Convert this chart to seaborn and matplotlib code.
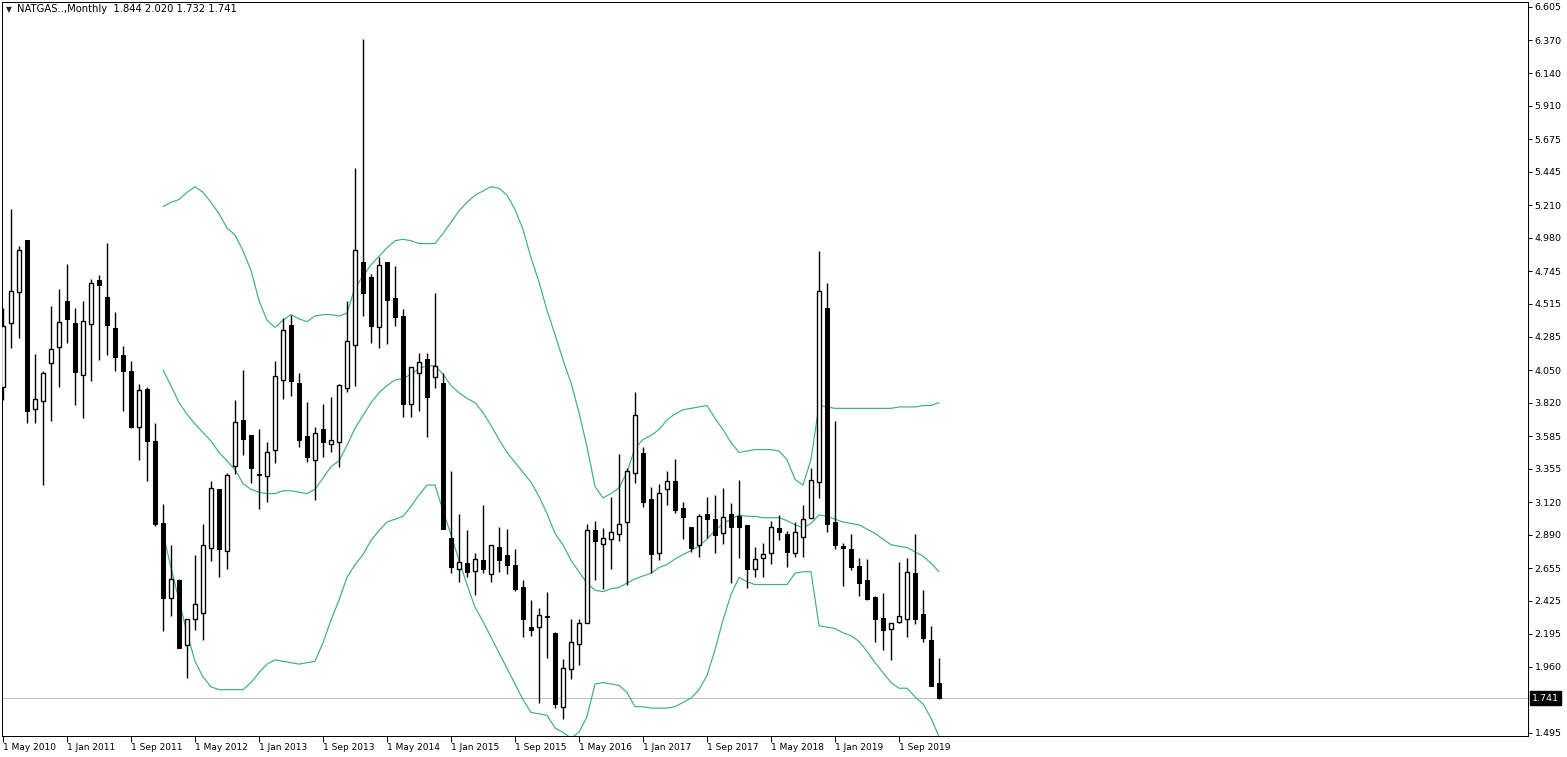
import numpy as np
import pandas as pd
import matplotlib
matplotlib.use("Agg")
import matplotlib.pyplot as plt
import seaborn as sns

# ---------------- data ----------------
first_month = "2010-05-01"
symbol_title = "NATGAS..,Monthly"

opens = [3.929, 4.380, 4.599, 4.965, 3.775, 3.831, 4.099, 4.211, 4.535, 4.380,
         4.014, 4.373, 4.683, 4.563, 4.345, 4.155, 4.043, 3.648, 3.916, 3.550,
         2.973, 2.445, 2.571, 2.114, 2.297, 2.339, 2.797, 3.212, 2.775, 3.374,
         3.698, 3.592, 3.320, 3.303, 3.486, 3.979, 4.366, 3.958, 3.585, 3.416,
         3.634, 3.529, 3.543, 3.923, 4.226, 4.810, 4.704, 4.352, 4.810, 4.556,
         4.430, 3.810, 4.028, 4.127, 4.000, 3.958, 2.867, 2.649, 2.691, 2.635,
         2.712, 2.614, 2.804, 2.747, 2.677, 2.522, 2.240, 2.240, 2.315, 2.198,
         1.677, 1.945, 2.121, 2.269, 2.923, 2.825, 2.860, 2.895, 2.980, 3.324,
         3.465, 3.141, 2.761, 3.212, 3.268, 3.078, 2.944, 2.818, 3.036, 3.001,
         2.902, 3.036, 3.022, 2.959, 2.649, 2.726, 2.761, 2.937, 2.895, 2.761,
         2.874, 3.008, 3.261, 4.486, 2.980, 2.808, 2.790, 2.670, 2.571, 2.452,
         2.304, 2.226, 2.276, 2.297, 2.620, 2.332, 2.149, 1.844]

highs = [4.486, 5.183, 4.922, 4.965, 4.162, 4.043, 4.500, 4.620, 4.796, 4.486,
         4.535, 4.690, 4.718, 4.943, 4.458, 4.218, 4.113, 3.951, 3.930, 3.676,
         3.106, 2.818, 2.578, 2.297, 2.747, 2.966, 3.268, 3.212, 3.324, 3.838,
         4.050, 3.592, 3.634, 3.543, 4.113, 4.416, 4.437, 4.028, 3.824, 3.648,
         3.810, 3.860, 3.951, 4.535, 5.471, 6.379, 4.725, 4.845, 4.810, 4.782,
         4.479, 4.071, 4.169, 4.169, 4.592, 4.028, 3.339, 3.036, 2.923, 2.761,
         3.099, 2.818, 2.944, 2.930, 2.790, 2.571, 2.431, 2.374, 2.487, 2.205,
         2.015, 2.297, 2.297, 2.966, 2.987, 2.937, 3.156, 3.458, 3.360, 3.895,
         3.507, 3.226, 3.247, 3.339, 3.423, 3.120, 2.944, 3.036, 3.156, 3.170,
         3.219, 3.113, 3.275, 2.959, 2.804, 2.832, 2.987, 3.029, 2.916, 2.980,
         3.099, 3.360, 4.887, 4.662, 3.691, 2.832, 2.895, 2.726, 2.719, 2.459,
         2.480, 2.269, 2.698, 2.726, 2.895, 2.501, 2.247, 2.020]

lows = [3.838, 4.204, 4.275, 3.676, 3.676, 3.240, 3.691, 3.930, 4.240, 3.803,
        3.712, 3.972, 4.120, 4.155, 4.043, 3.761, 3.641, 3.416, 3.268, 2.951,
        2.212, 2.318, 2.093, 1.882, 2.219, 2.149, 2.705, 2.593, 2.649, 3.317,
        3.451, 3.254, 3.071, 3.120, 3.395, 3.845, 3.867, 3.507, 3.402, 3.134,
        3.437, 3.472, 3.367, 3.895, 3.937, 4.430, 4.240, 4.204, 4.233, 4.359,
        3.719, 3.719, 3.761, 3.578, 3.923, 2.930, 2.620, 2.557, 2.593, 2.466,
        2.620, 2.557, 2.628, 2.614, 2.494, 2.170, 2.177, 1.706, 2.022, 1.670,
        1.593, 1.875, 1.973, 2.269, 2.571, 2.508, 2.649, 2.846, 2.536, 3.254,
        3.085, 2.620, 2.712, 3.099, 3.043, 2.860, 2.768, 2.733, 2.867, 2.761,
        2.825, 2.550, 2.726, 2.515, 2.593, 2.593, 2.684, 2.853, 2.663, 2.733,
        2.733, 3.008, 3.148, 2.909, 2.790, 2.529, 2.642, 2.459, 2.431, 2.135,
        2.079, 2.008, 2.269, 2.170, 2.262, 2.135, 1.825, 1.732]

closes = [4.359, 4.606, 4.894, 3.761, 3.845, 4.028, 4.197, 4.387, 4.409, 4.035,
          4.394, 4.662, 4.648, 4.366, 4.141, 4.043, 3.648, 3.909, 3.550, 2.966,
          2.445, 2.578, 2.093, 2.297, 2.402, 2.818, 3.219, 2.790, 3.310, 3.684,
          3.564, 3.360, 3.310, 3.472, 4.007, 4.331, 3.972, 3.557, 3.437, 3.606,
          3.543, 3.557, 3.944, 4.254, 4.894, 4.592, 4.359, 4.789, 4.542, 4.423,
          3.810, 4.071, 4.106, 3.860, 4.078, 2.930, 2.663, 2.698, 2.628, 2.719,
          2.649, 2.818, 2.712, 2.677, 2.508, 2.297, 2.219, 2.325, 2.308, 1.699,
          1.952, 2.135, 2.269, 2.923, 2.846, 2.867, 2.909, 2.966, 3.339, 3.733,
          3.120, 2.754, 3.184, 3.268, 3.064, 3.015, 2.797, 3.022, 3.001, 2.888,
          3.015, 2.944, 2.944, 2.649, 2.719, 2.754, 2.944, 2.909, 2.768, 2.909,
          3.001, 3.275, 4.606, 2.966, 2.818, 2.800, 2.663, 2.550, 2.438, 2.297,
          2.219, 2.269, 2.318, 2.628, 2.297, 2.163, 1.825, 1.741]

# Bollinger band lines (they begin at the 21st bar)
bb_upper = [5.20, 5.23, 5.25, 5.30, 5.34, 5.30, 5.23, 5.15, 5.05, 5.00,
            4.89, 4.75, 4.54, 4.40, 4.35, 4.40, 4.44, 4.41, 4.39, 4.43,
            4.44, 4.44, 4.43, 4.45, 4.63, 4.71, 4.79, 4.85, 4.91, 4.96,
            4.97, 4.96, 4.94, 4.94, 4.94, 5.01, 5.09, 5.17, 5.23, 5.28,
            5.31, 5.34, 5.33, 5.28, 5.18, 5.04, 4.84, 4.67, 4.47, 4.30,
            4.12, 3.96, 3.75, 3.51, 3.23, 3.15, 3.18, 3.22, 3.33, 3.50,
            3.56, 3.59, 3.63, 3.70, 3.74, 3.77, 3.78, 3.79, 3.80, 3.71,
            3.63, 3.54, 3.47, 3.48, 3.49, 3.49, 3.49, 3.48, 3.42, 3.28,
            3.24, 3.42, 3.80, 3.79, 3.78, 3.78, 3.78, 3.78, 3.78, 3.78,
            3.78, 3.78, 3.79, 3.79, 3.79, 3.80, 3.80, 3.82]

bb_middle = [4.05, 3.94, 3.82, 3.74, 3.67, 3.61, 3.55, 3.47, 3.41, 3.35,
             3.25, 3.21, 3.19, 3.18, 3.18, 3.20, 3.20, 3.19, 3.18, 3.21,
             3.29, 3.37, 3.41, 3.52, 3.64, 3.73, 3.82, 3.89, 3.94, 3.98,
             3.99, 4.02, 4.06, 4.08, 4.08, 4.02, 3.94, 3.89, 3.85, 3.82,
             3.75, 3.66, 3.56, 3.47, 3.40, 3.33, 3.26, 3.16, 3.04, 2.90,
             2.82, 2.71, 2.63, 2.55, 2.50, 2.49, 2.51, 2.52, 2.55, 2.58,
             2.60, 2.62, 2.66, 2.68, 2.72, 2.75, 2.78, 2.81, 2.86, 2.92,
             2.97, 3.00, 3.03, 3.02, 3.02, 3.01, 3.01, 3.01, 2.99, 2.96,
             2.94, 2.97, 3.03, 3.02, 3.00, 2.98, 2.97, 2.96, 2.93, 2.90,
             2.86, 2.82, 2.81, 2.80, 2.77, 2.74, 2.69, 2.63]

bb_lower = [2.90, 2.66, 2.43, 2.20, 2.00, 1.89, 1.82, 1.80, 1.80, 1.80,
            1.80, 1.85, 1.92, 1.98, 2.01, 2.00, 1.99, 1.98, 1.99, 2.00,
            2.13, 2.29, 2.43, 2.59, 2.68, 2.75, 2.85, 2.92, 2.98, 3.00,
            3.02, 3.09, 3.17, 3.24, 3.24, 3.06, 2.89, 2.71, 2.54, 2.38,
            2.28, 2.17, 2.06, 1.95, 1.84, 1.73, 1.64, 1.63, 1.62, 1.53,
            1.50, 1.46, 1.50, 1.61, 1.84, 1.85, 1.84, 1.83, 1.78, 1.68,
            1.68, 1.67, 1.67, 1.67, 1.68, 1.71, 1.74, 1.80, 1.90, 2.08,
            2.29, 2.47, 2.59, 2.56, 2.54, 2.54, 2.54, 2.54, 2.54, 2.62,
            2.63, 2.63, 2.25, 2.24, 2.23, 2.20, 2.18, 2.14, 2.07, 1.99,
            1.92, 1.85, 1.81, 1.81, 1.75, 1.70, 1.60, 1.47]

price_ticks = [6.605, 6.370, 6.140, 5.910, 5.675, 5.445, 5.210, 4.980, 4.745,
               4.515, 4.285, 4.050, 3.820, 3.585, 3.355, 3.120, 2.890, 2.655,
               2.425, 2.195, 1.960, 1.495]

date_tick_labels = ["1 May 2010", "1 Jan 2011", "1 Sep 2011", "1 May 2012",
                    "1 Jan 2013", "1 Sep 2013", "1 May 2014", "1 Jan 2015",
                    "1 Sep 2015", "1 May 2016", "1 Jan 2017", "1 Sep 2017",
                    "1 May 2018", "1 Jan 2019", "1 Sep 2019"]

last_price = closes[-1]

# ---------------- frames ----------------
n = len(opens)
dates = pd.date_range(first_month, periods=n, freq="MS")
df = pd.DataFrame({"idx": np.arange(n), "open": opens, "high": highs,
                   "low": lows, "close": closes, "date": dates})
df["label"] = [f"{d.day} {d.strftime('%b %Y')}" for d in df["date"]]
df["bull"] = df["close"] >= df["open"]
df["body_lo"] = df[["open", "close"]].min(axis=1)
df["body_h"] = (df["close"] - df["open"]).abs()

b0 = n - len(bb_upper)
bands = pd.DataFrame({"idx": np.arange(b0, n), "upper": bb_upper,
                      "middle": bb_middle, "lower": bb_lower})

# ---------------- figure ----------------
sns.set_style("white")
plt.rcParams["font.family"] = ["DejaVu Sans"]

W, H = 1567, 757
fig = plt.figure(figsize=(W / 100, H / 100), dpi=100)
fig.patch.set_facecolor("white")
left_px, right_px, top_px, bot_px = 1.7, 1527.7, 1.7, 735.7
ax = fig.add_axes([left_px / W, 1 - bot_px / H,
                   (right_px - left_px) / W, (bot_px - top_px) / H])
ax.set_facecolor("white")

green = "#3CB371"
px = 0.72  # one pixel in points

# current price line
ax.axhline(last_price, color="#C0C0C0", lw=px, zorder=1)

# bands via seaborn
for col in ["upper", "middle", "lower"]:
    sns.lineplot(data=bands, x="idx", y=col, color=green, lw=0.85,
                 ax=ax, legend=False, zorder=2)

# wicks
ax.vlines(df["idx"], df["low"], df["high"], color="black", lw=1.0, zorder=3)
# bodies
bw = 0.6
bull = df[df["bull"]]
bear = df[~df["bull"]]
ax.bar(bear["idx"], bear["body_h"], bottom=bear["body_lo"], width=bw,
       color="black", edgecolor="black", lw=px, zorder=4)
ax.bar(bull["idx"], bull["body_h"], bottom=bull["body_lo"], width=bw,
       color="white", edgecolor="black", lw=1.0, zorder=4)

# axes ranges (pixel mapping of the reference)
x_per_px = 1 / 8.0
ax.set_xlim((left_px - 3) * x_per_px, (right_px - 3) * x_per_px)
p_per_px = (6.605 - 1.495) / (733 - 7)
ax.set_ylim(1.495 - (bot_px - 733) * p_per_px, 6.605 + (7 - top_px) * p_per_px)

# y axis on the right
ax.yaxis.tick_right()
ax.set_yticks(price_ticks)
ax.set_yticklabels([f"{v:.3f}" for v in price_ticks])
ax.tick_params(axis="y", which="both", right=True, left=False, length=3,
               width=px, pad=2, labelsize=6.8, colors="black")

# x axis
pos = [int(df.loc[df["label"] == lab, "idx"].iloc[0]) for lab in date_tick_labels]
ax.set_xticks(pos)
ax.set_xticklabels(date_tick_labels, ha="left")
ax.tick_params(axis="x", bottom=True, length=4, width=px, pad=1,
               labelsize=6.5, colors="black")
for lab in ax.get_xticklabels():
    lab.set_horizontalalignment("left")

ax.set_xlabel("")
ax.set_ylabel("")
for s in ax.spines.values():
    s.set_visible(True)
    s.set_color("black")
    s.set_linewidth(px)

# price box
ax.annotate(f"{last_price:.3f}", xy=(1.0, last_price),
            xycoords=("axes fraction", "data"), xytext=(3.0, 0),
            textcoords="offset points", va="center", ha="left",
            fontsize=6.8, color="white",
            bbox=dict(boxstyle="square,pad=0.25", fc="black", ec="black"),
            annotation_clip=False)

# header
o, h, l, c = opens[-1], highs[-1], lows[-1], closes[-1]
fig.text(6 / W, 1 - 9.5 / H, "\u25BC", fontsize=5.5, va="center", ha="left")
fig.text(17 / W, 1 - 9.5 / H,
         f"{symbol_title}  {o:.3f} {h:.3f} {l:.3f} {c:.3f}",
         fontsize=7.2, va="center", ha="left", color="black")

fig.savefig("out.png", dpi=100, facecolor="white")
